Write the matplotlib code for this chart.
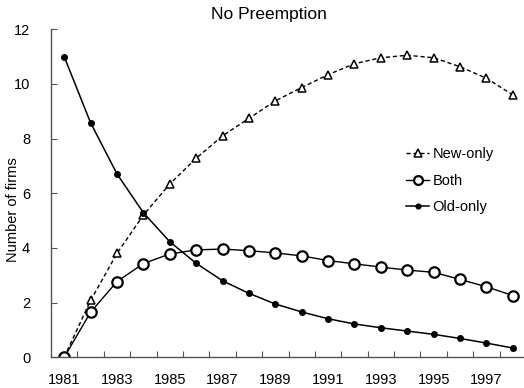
import numpy as np
import matplotlib
matplotlib.use("Agg")
import matplotlib.pyplot as plt

plt.rcParams['font.family'] = ['Liberation Sans', 'DejaVu Sans']

# data
years = np.arange(1981, 1999)
new_only = [0, 2.08, 3.8, 5.2, 6.34, 7.28, 8.1, 8.74, 9.38, 9.87, 10.34, 10.74, 10.96, 11.05, 10.96, 10.63, 10.21, 9.6]
both = [0, 1.65, 2.77, 3.43, 3.78, 3.93, 3.96, 3.9, 3.82, 3.71, 3.54, 3.42, 3.3, 3.19, 3.11, 2.85, 2.58, 2.26]
old_only = [11.0, 8.58, 6.71, 5.29, 4.23, 3.44, 2.8, 2.34, 1.95, 1.66, 1.41, 1.22, 1.08, 0.96, 0.84, 0.69, 0.52, 0.34]
year_labels = [str(y) for y in range(1981, 1999, 2)]

fig = plt.figure(figsize=(5.24, 3.88), dpi=100)
# axes run past the right edge, as in the reference crop
ax = fig.add_axes([51/524, 30.7/388, 475/524, 328/388])

ax.plot(years, new_only, color='black', lw=1, ls=(0, (3, 2)), marker='^', ms=6,
        mfc='white', mec='black', mew=1.1, label='New-only')
ax.plot(years, both, color='black', lw=1, marker='o', ms=7.5,
        mfc='white', mec='black', mew=1.6, label='Both')
ax.plot(years, old_only, color='black', lw=1.1, marker='o', ms=4,
        mfc='black', mec='black', label='Old-only')

ax.set_xlim(1980.5, 1998.5)
ax.set_ylim(0, 12)
ax.set_yticks(range(0, 13, 2))
ax.set_xticks(np.arange(1981.5, 1998, 1))
ax.set_xticklabels([])
ax.set_xticks(range(1981, 1999, 2), minor=True)
ax.set_xticklabels(year_labels, minor=True)
ax.tick_params(axis='x', which='major', direction='in', length=4, color='#555555')
ax.tick_params(axis='x', which='minor', length=0, pad=11, labelsize=10.5)
ax.tick_params(axis='y', direction='in', length=4, color='#555555', labelsize=10.5, pad=15)

for s in ['top', 'right']:
    ax.spines[s].set_visible(False)
for s in ['left', 'bottom']:
    ax.spines[s].set_color('#555555')
    ax.spines[s].set_linewidth(1)

ax.set_ylabel('Number of firms', fontsize=10.5, va='center')
ax.yaxis.set_label_coords(-38/475, 0.45)
fig.text(269/524, 1 - 14/388, 'No Preemption', ha='center', va='center', fontsize=12.5)

ax.legend(loc='upper left', bbox_to_anchor=(0.72, 0.68), frameon=False, fontsize=10.5,
          handlelength=1.6, handletextpad=0.2, labelspacing=0.85, markerscale=0.85)

fig.savefig('out.png', dpi=100)
